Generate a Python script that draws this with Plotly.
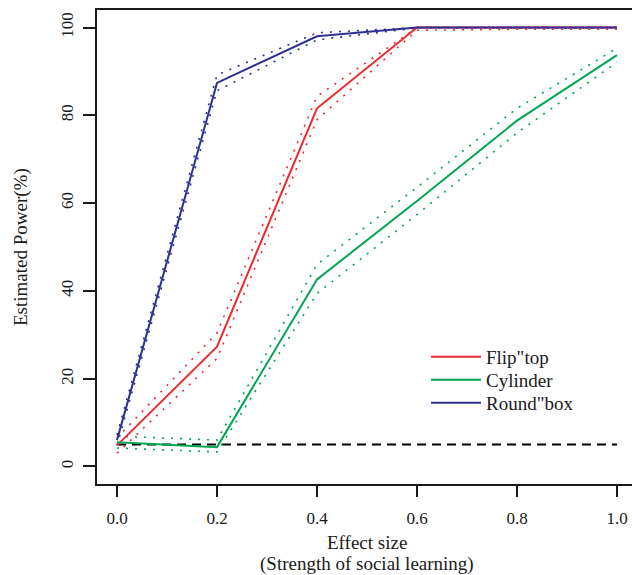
import plotly.graph_objects as go

effect = [0.0, 0.2, 0.4, 0.6, 0.8, 1.0]

flip_mean = [4.8, 27.3, 81.6, 100.0, 100.0, 100.0]
flip_upper = [6.5, 30.4, 84.3, 100.0, 100.0, 100.0]
flip_lower = [3.0, 24.6, 79.0, 99.4, 99.6, 99.6]

cyl_mean = [5.5, 4.4, 42.6, 60.5, 78.8, 93.7]
cyl_upper = [6.9, 6.0, 46.0, 63.6, 81.6, 95.3]
cyl_lower = [4.2, 3.3, 39.4, 57.4, 76.0, 92.1]

round_mean = [6.0, 87.4, 98.0, 100.0, 100.0, 100.0]
round_upper = [7.2, 89.2, 98.8, 100.0, 100.0, 100.0]
round_lower = [4.8, 85.6, 97.2, 99.9, 99.9, 99.9]

null_x = [0.0, 1.0]
null_y = [5.0, 5.0]

series_names = ['Flip"top', 'Cylinder', 'Round"box']
colors = ["#EE2A2E", "#00A651", "#2E3192"]

pw, ph = 632 - 97, 575 - 10 - 91
def px_x(px):
    return (px - 97) / pw
def px_y(py):
    return (575 - 91 - py) / ph

fig = go.Figure()

fig.add_trace(go.Scatter(x=null_x, y=null_y, mode="lines",
                         line=dict(color="black", width=2, dash="9px,6px"),
                         showlegend=False, hoverinfo="skip"))

groups = [(flip_mean, flip_upper, flip_lower),
          (cyl_mean, cyl_upper, cyl_lower),
          (round_mean, round_upper, round_lower)]

for (m, u, l), c in zip(groups, colors):
    for b in (u, l):
        fig.add_trace(go.Scatter(x=effect, y=b, mode="lines",
                                 line=dict(color=c, width=1.6, dash="2px,7px"),
                                 showlegend=False, hoverinfo="skip"))

legend_ids = ["legend", "legend2", "legend3"]
for (m, u, l), name, c, lid in zip(groups, series_names, colors, legend_ids):
    fig.add_trace(go.Scatter(x=effect, y=m, mode="lines", name=name,
                             line=dict(color=c, width=2), legend=lid))

ink = "#1a1a1a"
family = "Liberation Serif"
title_font = dict(family=family, size=19, color=ink)
tick_font = dict(family=family, size=17, color=ink)

legend_rows = [357, 380, 403]
legend_defs = {}
for lid, row in zip(legend_ids, legend_rows):
    legend_defs[lid] = dict(x=px_x(426), y=px_y(row), xanchor="left", yanchor="middle",
                            bgcolor="rgba(0,0,0,0)", font=title_font, itemwidth=50,
                            borderwidth=0)

fig.update_layout(
    width=632, height=575,
    margin=dict(l=97, r=0, t=10, b=91, autoexpand=False),
    paper_bgcolor="white", plot_bgcolor="white",
    font=title_font,
    showlegend=True,
    **legend_defs,
    xaxis=dict(range=[-0.04, 1.03], tickvals=[0, 0.2, 0.4, 0.6, 0.8, 1.0],
               ticktext=["0.0", "0.2", "0.4", "0.6", "0.8", "1.0"],
               automargin=False,
               showgrid=False, zeroline=False, showline=True, mirror=True,
               linecolor=ink, linewidth=2, ticks="outside", ticklen=11,
               tickwidth=2, tickcolor=ink, tickfont=tick_font,
               ticklabelstandoff=7),
    yaxis=dict(range=[-4, 104], tickvals=[0, 20, 40, 60, 80, 100],
               automargin=False,
               showgrid=False, zeroline=False, showline=True, mirror=False,
               linecolor=ink, linewidth=2, ticks="outside", ticklen=12,
               tickwidth=2, tickcolor=ink, tickangle=-90, tickfont=tick_font,
               ticklabelstandoff=3),
    annotations=[
        dict(text="Effect size", x=px_x(367), y=px_y(542), xref="paper",
             yref="paper", xanchor="center", yanchor="middle",
             showarrow=False, font=title_font),
        dict(text="(Strength of social learning)", x=px_x(367), y=px_y(564),
             xref="paper", yref="paper", xanchor="center", yanchor="middle",
             showarrow=False, font=title_font),
        dict(text="Estimated Power(%)", x=px_x(21), y=px_y(247), xref="paper",
             yref="paper", xanchor="center", yanchor="middle",
             showarrow=False, font=title_font, textangle=-90),
    ],
)

fig.write_html("out.html", config={"displayModeBar": False},
               post_script="document.body.style.margin='0';")
